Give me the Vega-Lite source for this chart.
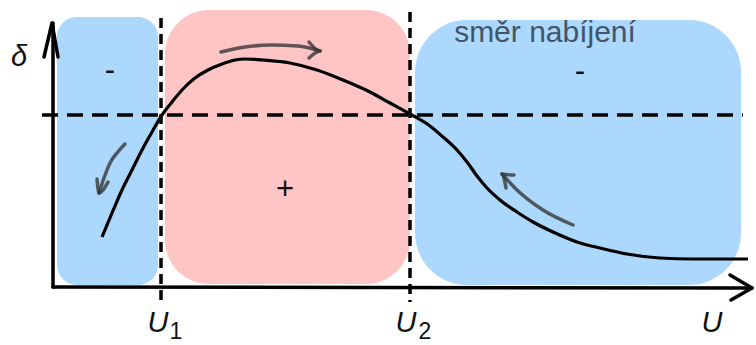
{
  "$schema": "https://vega.github.io/schema/vega-lite/v6.json",
  "width": 756,
  "height": 345,
  "padding": 0,
  "autosize": {"type": "fit", "contains": "padding"},
  "background": "white",
  "config": {"view": {"stroke": null}},
  "datasets": {
    "regions": [
      {"name": "left", "u0": 57, "u1": 158, "d0": 60, "d1": 328, "sign": "neg"},
      {"name": "mid", "u0": 165, "u1": 410, "d0": 61, "d1": 335, "sign": "pos"},
      {"name": "right", "u0": 415, "u1": 741, "d0": 60, "d1": 325, "sign": "neg"}
    ],
    "curve": [
      {"i": 0, "u": 102, "d": 108}, {"i": 1, "u": 112, "d": 132}, {"i": 2, "u": 122, "d": 155},
      {"i": 3, "u": 132, "d": 175}, {"i": 4, "u": 142, "d": 195}, {"i": 5, "u": 152, "d": 213},
      {"i": 6, "u": 162, "d": 230}, {"i": 7, "u": 172, "d": 243}, {"i": 8, "u": 182, "d": 255},
      {"i": 9, "u": 195, "d": 267}, {"i": 10, "u": 208, "d": 275}, {"i": 11, "u": 222, "d": 281},
      {"i": 12, "u": 235, "d": 285}, {"i": 13, "u": 245, "d": 286}, {"i": 14, "u": 263, "d": 285},
      {"i": 15, "u": 290, "d": 282}, {"i": 16, "u": 317, "d": 275}, {"i": 17, "u": 343, "d": 265},
      {"i": 18, "u": 370, "d": 253}, {"i": 19, "u": 390, "d": 242}, {"i": 20, "u": 410, "d": 231},
      {"i": 21, "u": 430, "d": 219}, {"i": 22, "u": 443, "d": 208}, {"i": 23, "u": 457, "d": 195},
      {"i": 24, "u": 467, "d": 183}, {"i": 25, "u": 477, "d": 169}, {"i": 26, "u": 487, "d": 157},
      {"i": 27, "u": 500, "d": 145}, {"i": 28, "u": 517, "d": 133}, {"i": 29, "u": 533, "d": 123},
      {"i": 30, "u": 553, "d": 113}, {"i": 31, "u": 580, "d": 102}, {"i": 32, "u": 600, "d": 97},
      {"i": 33, "u": 627, "d": 91}, {"i": 34, "u": 660, "d": 87}, {"i": 35, "u": 693, "d": 86},
      {"i": 36, "u": 748, "d": 86}
    ],
    "arrows": [
      {"g": "a1", "i": 0, "u": 125, "d": 201}, {"g": "a1", "i": 1, "u": 117, "d": 192},
      {"g": "a1", "i": 2, "u": 110, "d": 182}, {"g": "a1", "i": 3, "u": 104, "d": 167},
      {"g": "a1", "i": 4, "u": 99, "d": 152},
      {"g": "h1", "i": 0, "u": 97, "d": 166}, {"g": "h1", "i": 1, "u": 99, "d": 152}, {"g": "h1", "i": 2, "u": 108, "d": 163},
      {"g": "a2", "i": 0, "u": 221, "d": 293}, {"g": "a2", "i": 1, "u": 245, "d": 298},
      {"g": "a2", "i": 2, "u": 270, "d": 300}, {"g": "a2", "i": 3, "u": 298, "d": 299},
      {"g": "a2", "i": 4, "u": 320, "d": 294},
      {"g": "h2", "i": 0, "u": 309, "d": 303}, {"g": "h2", "i": 1, "u": 320, "d": 294}, {"g": "h2", "i": 2, "u": 309, "d": 287},
      {"g": "a3", "i": 0, "u": 573, "d": 120}, {"g": "a3", "i": 1, "u": 543, "d": 135},
      {"g": "a3", "i": 2, "u": 517, "d": 155}, {"g": "a3", "i": 3, "u": 502, "d": 171},
      {"g": "h3", "i": 0, "u": 506, "d": 157}, {"g": "h3", "i": 1, "u": 502, "d": 171}, {"g": "h3", "i": 2, "u": 514, "d": 170}
    ],
    "axes": [
      {"g": "yaxis", "i": 0, "u": 53, "d": 58}, {"g": "yaxis", "i": 1, "u": 53, "d": 322},
      {"g": "yhead", "i": 0, "u": 44, "d": 288}, {"g": "yhead", "i": 1, "u": 52, "d": 322}, {"g": "yhead", "i": 2, "u": 58, "d": 288},
      {"g": "xaxis", "i": 0, "u": 53, "d": 58}, {"g": "xaxis", "i": 1, "u": 752, "d": 57},
      {"g": "xhead", "i": 0, "u": 730, "d": 70}, {"g": "xhead", "i": 1, "u": 752, "d": 57}, {"g": "xhead", "i": 2, "u": 731, "d": 45}
    ],
    "vdashed": [
      {"g": "v1", "i": 0, "u": 161, "d": 327}, {"g": "v1", "i": 1, "u": 161, "d": 43},
      {"g": "v2", "i": 0, "u": 410, "d": 333}, {"g": "v2", "i": 1, "u": 410, "d": 43}
    ],
    "hdashed": [
      {"g": "h", "i": 0, "u": 42, "d": 230}, {"g": "h", "i": 1, "u": 743, "d": 230}
    ],
    "signs": [
      {"t": "-", "u": 110, "d": 274},
      {"t": "+", "u": 285, "d": 155},
      {"t": "-", "u": 580, "d": 273}
    ],
    "italic": [
      {"t": "δ", "u": 19, "d": 288},
      {"t": "U", "u": 158, "d": 22},
      {"t": "U", "u": 406, "d": 22},
      {"t": "U", "u": 712, "d": 22}
    ],
    "subs": [
      {"t": "1", "u": 176, "d": 13},
      {"t": "2", "u": 425, "d": 13}
    ],
    "title": [
      {"t": "směr nabíjení", "u": 545, "d": 312}
    ]
  },
  "layer": [
    {
      "data": {"name": "regions"},
      "transform": [{"filter": "datum.name == 'left'"}],
      "mark": {"type": "rect", "cornerRadius": 20, "color": "#acd8fd"},
      "encoding": {
        "x": {"field": "u0", "type": "quantitative", "scale": {"domain": [0, 756], "nice": false, "zero": false}, "axis": null},
        "x2": {"field": "u1"},
        "y": {"field": "d0", "type": "quantitative", "scale": {"domain": [0, 345], "nice": false, "zero": false}, "axis": null},
        "y2": {"field": "d1"}
      }
    },
    {
      "data": {"name": "regions"},
      "transform": [{"filter": "datum.name == 'mid'"}],
      "mark": {"type": "rect", "cornerRadius": 44, "color": "#ffc4c4"},
      "encoding": {
        "x": {"field": "u0", "type": "quantitative"},
        "x2": {"field": "u1"},
        "y": {"field": "d0", "type": "quantitative"},
        "y2": {"field": "d1"}
      }
    },
    {
      "data": {"name": "regions"},
      "transform": [{"filter": "datum.name == 'right'"}],
      "mark": {"type": "rect", "cornerRadius": 52, "color": "#acd8fd"},
      "encoding": {
        "x": {"field": "u0", "type": "quantitative"},
        "x2": {"field": "u1"},
        "y": {"field": "d0", "type": "quantitative"},
        "y2": {"field": "d1"}
      }
    },
    {
      "data": {"name": "vdashed"},
      "mark": {"type": "line", "color": "#000000", "strokeWidth": 3.5, "strokeDash": [10, 6]},
      "encoding": {
        "x": {"field": "u", "type": "quantitative"},
        "y": {"field": "d", "type": "quantitative"},
        "detail": {"field": "g"},
        "order": {"field": "i"}
      }
    },
    {
      "data": {"name": "hdashed"},
      "mark": {"type": "line", "color": "#000000", "strokeWidth": 3.5, "strokeDash": [16, 9]},
      "encoding": {
        "x": {"field": "u", "type": "quantitative"},
        "y": {"field": "d", "type": "quantitative"},
        "order": {"field": "i"}
      }
    },
    {
      "data": {"name": "axes"},
      "mark": {"type": "line", "color": "#000000", "strokeWidth": 3.5, "strokeCap": "round", "strokeJoin": "round"},
      "encoding": {
        "x": {"field": "u", "type": "quantitative"},
        "y": {"field": "d", "type": "quantitative"},
        "detail": {"field": "g"},
        "order": {"field": "i"}
      }
    },
    {
      "data": {"name": "curve"},
      "mark": {"type": "line", "color": "#000000", "strokeWidth": 3.2, "interpolate": "monotone"},
      "encoding": {
        "x": {"field": "u", "type": "quantitative"},
        "y": {"field": "d", "type": "quantitative"},
        "order": {"field": "i"}
      }
    },
    {
      "data": {"name": "arrows"},
      "mark": {"type": "line", "color": "#333333", "strokeWidth": 3.5, "strokeCap": "round", "strokeJoin": "round", "interpolate": "monotone", "opacity": 0.78},
      "encoding": {
        "x": {"field": "u", "type": "quantitative"},
        "y": {"field": "d", "type": "quantitative"},
        "detail": {"field": "g"},
        "order": {"field": "i"}
      }
    },
    {
      "data": {"name": "signs"},
      "mark": {"type": "text", "font": "Liberation Sans", "fontSize": 31, "baseline": "middle", "align": "center", "color": "#111111"},
      "encoding": {
        "x": {"field": "u", "type": "quantitative"},
        "y": {"field": "d", "type": "quantitative"},
        "text": {"field": "t"}
      }
    },
    {
      "data": {"name": "italic"},
      "mark": {"type": "text", "font": "Liberation Sans", "fontSize": 29, "fontStyle": "italic", "baseline": "middle", "align": "center", "color": "#111111"},
      "encoding": {
        "x": {"field": "u", "type": "quantitative"},
        "y": {"field": "d", "type": "quantitative"},
        "text": {"field": "t"}
      }
    },
    {
      "data": {"name": "subs"},
      "mark": {"type": "text", "font": "Liberation Sans", "fontSize": 23, "baseline": "middle", "align": "center", "color": "#111111"},
      "encoding": {
        "x": {"field": "u", "type": "quantitative"},
        "y": {"field": "d", "type": "quantitative"},
        "text": {"field": "t"}
      }
    },
    {
      "data": {"name": "title"},
      "mark": {"type": "text", "font": "Liberation Sans", "fontSize": 30, "baseline": "middle", "align": "center", "color": "#41546a"},
      "encoding": {
        "x": {"field": "u", "type": "quantitative"},
        "y": {"field": "d", "type": "quantitative"},
        "text": {"field": "t"}
      }
    }
  ]
}
